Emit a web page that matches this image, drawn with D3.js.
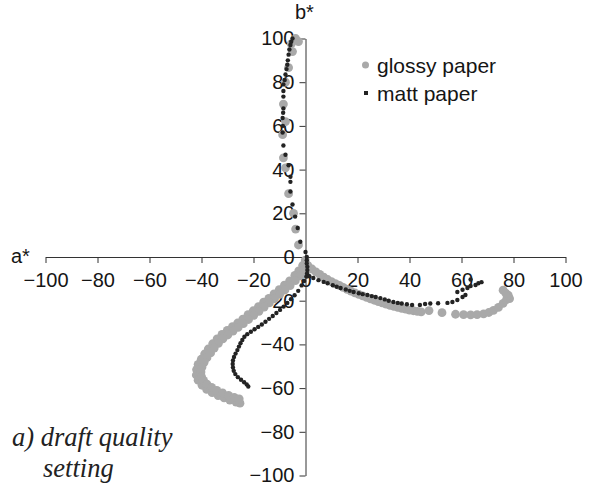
<!DOCTYPE html>
<html>
<head>
<meta charset="utf-8">
<script src="https://cdn.jsdelivr.net/npm/d3@7"></script>
<style>
  body { margin: 0; background: #fff; }
  svg { display: block; font-family: "Liberation Sans", Arial, sans-serif; }
</style>
</head>
<body>
<svg id="chart" width="589" height="488"></svg>
<script>
// --- data: CIE a*/b* points ---
const xTicks = [-100, -80, -60, -40, -20, 0, 20, 40, 60, 80, 100];
const yTicks = [-100, -80, -60, -40, -20, 0, 20, 40, 60, 80, 100];
const seriesNames = ["glossy paper", "matt paper"];

// glossy paper
const glossyYellow = [
  [-2.7, 5.5], [-3.8, 12.8], [-4.6, 20], [-6.5, 29], [-7.7, 40.8], [-8.5, 45.4],
  [-8.8, 56], [-7.7, 62], [-8.5, 70], [-7.7, 80], [-6.5, 86.7], [-5, 94],
  [-3.8, 100], [-2.7, 98.6], [-5.5, 97.5]
];
const glossyBlue = [
  [-0.1, -1.4], [-1.1, -3.9], [-2.6, -6.4], [-4.1, -8.4], [-6.1, -10.9], [-8.1, -12.9],
  [-10.1, -14.9], [-12.1, -16.9], [-14.1, -18.9], [-16.1, -20.7], [-18.1, -22.7], [-20.1, -24.6],
  [-22.1, -26.4], [-24.1, -28.4], [-26.1, -30.2], [-28.1, -31.9], [-30.1, -33.6], [-32.1, -35.4],
  [-34, -37.5], [-35.7, -39.7], [-37.4, -42.1], [-38.8, -44.4], [-40.1, -46.8], [-41.3, -49.1],
  [-41.9, -51.5], [-42, -54], [-41.3, -56.4], [-39.8, -58.7], [-38, -60.6], [-35.9, -62.1],
  [-33.6, -63.4], [-31.3, -64.5], [-29.1, -65.5], [-26.7, -66.4], [-25.2, -66.9],
  [0.6, -3.85], [-0.65, -6.35], [-2.15, -8.6], [-3.9, -10.85], [-5.9, -13.1], [-7.9, -15.1],
  [-9.9, -17.1], [-11.9, -19.1], [-13.9, -21], [-15.9, -22.9], [-17.9, -24.85], [-19.9, -26.7],
  [-21.9, -28.6], [-23.9, -30.5], [-25.9, -32.25], [-27.9, -33.95], [-29.9, -35.7], [-31.8, -37.5],
  [-33.5, -39.5], [-35.1, -41.7], [-36.5, -43.9], [-37.9, -46.1], [-39, -48.2], [-39.8, -50.4],
  [-40.2, -52.6], [-40, -54.7], [-39.2, -56.5], [-37.9, -58.2], [-36.1, -59.7], [-34.1, -61],
  [-31.9, -62.2], [-29.6, -63.3], [-27.4, -64.2], [-25.5, -64.9]
];
const glossyRed = [
  [1, -4], [2.5, -5.5], [4, -6.8], [5.5, -8], [7, -9.2], [8.5, -10.3], [10, -11.3],
  [11.5, -12.2], [13, -13], [14.5, -13.9], [16, -14.8], [17.5, -15.6], [19, -16.4],
  [20.5, -17.1], [22, -17.8], [23.5, -18.5], [25, -19.2], [26.5, -19.8], [28, -20.4],
  [29.5, -21], [31, -21.6], [32.5, -22.1], [34, -22.6], [35.5, -23.1], [37, -23.5],
  [38.5, -23.9], [40, -24.3], [41.5, -24.6], [43, -24.9], [44.5, -25.1],
  [47.5, -24.5], [52.5, -25.5], [57.7, -26.2], [60.8, -26.4], [63.5, -26.5], [66, -26.4],
  [68.5, -26], [70.5, -25.4], [72.3, -24.4], [74.2, -23.1], [76, -21.2], [77.3, -19.5],
  [78.5, -19], [78, -17.5], [77, -16.5], [76, -15.2]
];

// matt paper
const mattYellow = [
  [0, 2.3], [-2, 7], [-3, 13.3], [-4, 18.5], [-5, 24], [-5.8, 30], [-5.8, 34.4],
  [-5.8, 36.7], [-6.5, 42], [-7.7, 46.8], [-8.5, 51], [-8.8, 57], [-8.7, 60],
  [-8.8, 63.6], [-8.6, 66], [-8.5, 68], [-8.5, 73.4], [-8.5, 76], [-8.5, 79], [-8, 81],
  [-7.7, 83.5], [-7.3, 86], [-7, 88], [-6.8, 90], [-6.5, 92.6], [-6.2, 95], [-5.8, 97],
  [-5.5, 98.5], [-5, 100]
];
const mattRed = [
  [0.5, 0], [0.5, -1.5], [0.5, -3], [0.7, -4.5], [0.7, -6], [0.6, -7.5],
  [1.5, -8.8], [3, -9.6], [5, -10.6], [7, -11.4], [8.5, -12], [10.5, -12.9], [12, -13.6],
  [13.5, -14.2], [15.5, -14.9], [17, -15.5], [18.5, -16], [20.5, -16.6], [22, -17],
  [23.8, -17.4], [25.5, -17.9], [27, -18.3], [28.8, -18.8], [30.5, -19.4], [32, -20],
  [33.8, -20.6], [35.5, -21], [37, -21.3], [39, -21.6], [41, -22], [44, -22],
  [46, -21.5], [48, -21.3], [51, -21.2], [54.6, -21], [56.5, -20.6], [58.4, -19.7],
  [60.4, -18.3], [61.5, -17.4], [58.4, -16], [60.4, -15], [62.3, -14.2], [63.5, -13.3],
  [65.4, -12.8], [66.5, -12], [67.7, -11.5], [63.5, -10.3]
];
const mattBlue = [
  [0.3, -9], [-0.5, -11], [-1.5, -13], [-2.8, -15.5], [-4.2, -17.5], [-5.6, -19.3],
  [-7, -21], [-8.4, -22.7], [-9.8, -24.2], [-11.2, -25.6], [-12.6, -27], [-14, -28.3],
  [-15.4, -29.6], [-16.8, -30.9], [-18.2, -32], [-19.6, -33.1], [-21, -34.2], [-22.4, -35.3],
  [-23.5, -36.5], [-24.3, -38], [-25, -39.5], [-25.6, -41], [-26.2, -42.6], [-26.9, -44.2],
  [-27.5, -45.8], [-27.9, -47.4], [-28, -49], [-27.9, -50.6], [-27.6, -52.1], [-27, -53.6],
  [-26, -55], [-24.8, -56.2], [-23.6, -57.3], [-22.6, -58.3], [-22, -59.3]
];

const glossy = [...glossyYellow, ...glossyBlue, ...glossyRed];
const matt = [...mattYellow, ...mattRed, ...mattBlue];

// --- setup ---
const svg = d3.select("#chart");
const x = d3.scaleLinear().domain([-100, 100]).range([45.5, 565.5]);
const y = d3.scaleLinear().domain([-100, 100]).range([475.5, 38.5]);
const fmt = d => d3.format("d")(d).replace("-", "\u2212");
const ink = "#151515";

// Axes through the origin
const gx = svg.append("g")
  .attr("transform", `translate(0,${y(0)})`)
  .call(d3.axisBottom(x).tickValues(xTicks).tickFormat(fmt).tickSize(6).tickSizeOuter(0).tickPadding(10));
const gy = svg.append("g")
  .attr("transform", `translate(${x(0)},0)`)
  .call(d3.axisLeft(y).tickValues(yTicks).tickFormat(fmt).tickSize(6).tickSizeOuter(0).tickPadding(5));

[gx, gy].forEach(g => {
  g.selectAll("path, line").attr("stroke", "#333");
  g.selectAll("text")
    .attr("fill", ink)
    .style("font-size", "20px")
    .style("font-family", "Liberation Sans, Arial, sans-serif");
});

// Points
svg.append("g").selectAll("circle")
  .data(glossy)
  .enter().append("circle")
    .attr("cx", d => x(d[0]))
    .attr("cy", d => y(d[1]))
    .attr("r", 4.4)
    .attr("fill", "#a9a9a9");

svg.append("g").selectAll("circle")
  .data(matt)
  .enter().append("circle")
    .attr("cx", d => x(d[0]))
    .attr("cy", d => y(d[1]))
    .attr("r", 2.2)
    .attr("fill", "#232323");

// Axis names
svg.append("text").attr("x", 11).attr("y", 263).text("a*")
  .style("font-size", "20px").attr("fill", ink);
svg.append("text").attr("x", 295).attr("y", 19).text("b*")
  .style("font-size", "20px").attr("fill", ink);

// Legend
const legend = svg.append("g");
legend.append("circle").attr("cx", 365.5).attr("cy", 65).attr("r", 3.5).attr("fill", "#a9a9a9");
legend.append("rect").attr("x", 364).attr("y", 91).attr("width", 4).attr("height", 4).attr("fill", "#232323");
legend.selectAll("text.leg")
  .data(seriesNames)
  .enter().append("text")
    .attr("class", "leg")
    .attr("x", 377)
    .attr("y", (d, i) => 73 + i * 28)
    .text(d => d)
    .style("font-size", "21px")
    .attr("fill", ink);

// Caption
const cap = svg.append("text")
  .style("font-family", "Liberation Serif, Times New Roman, serif")
  .style("font-style", "italic")
  .style("font-size", "26.5px")
  .attr("fill", "#222");
cap.append("tspan").attr("x", 12).attr("y", 446).text("a) draft quality");
cap.append("tspan").attr("x", 43).attr("y", 477).text("setting");
</script>
</body>
</html>
